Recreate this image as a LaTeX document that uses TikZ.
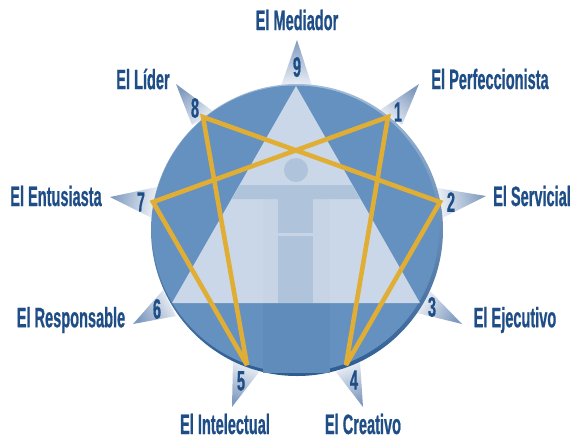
\documentclass[tikz,border=0pt]{standalone}
\usepackage{fontspec}
\newfontfamily\labelfont[FakeStretch=0.52,FakeBold=0.6]{Liberation Sans Bold}
\definecolor{inkblue}{HTML}{1F4E86}
\definecolor{discblue}{HTML}{6491BF}
\definecolor{lowblue}{HTML}{5F8CBB}
\definecolor{rimlight}{HTML}{A3BDD9}
\definecolor{rimdark}{HTML}{2D5C92}
\definecolor{paleblue}{HTML}{CAD7E8}
\definecolor{midpale}{HTML}{C6D4E6}
\definecolor{figblue}{HTML}{AFC3DB}
\definecolor{tipblue}{HTML}{7F9ABF}
\definecolor{basepale}{HTML}{EDF1F7}
\definecolor{linegold}{HTML}{E0AE35}
\pgfdeclareradialshading{rimshade}{\pgfpoint{0bp}{0bp}}{
  color(0bp)=(discblue); color(45bp)=(discblue); color(50bp)=(discblue!60!rimlight)}
\begin{document}
\begin{tikzpicture}[
    x=1pt, y=-1pt,
    namelabel/.style={text=inkblue, font=\labelfont\fontsize{28}{28}\selectfont, inner sep=0pt},
    digitlabel/.style={text=inkblue, font=\labelfont\fontsize{28}{28}\selectfont, inner sep=0pt},
    spike/.style={top color=tipblue, bottom color=basepale},
    goldline/.style={draw=linegold, line width=4.6pt, line join=miter, miter limit=3},
]
\useasboundingbox (0,0) rectangle (571,440);
% spikes
\shade[spike, shading angle=0]    (297,40)  -- (312,86)  -- (281,86)  -- cycle;
\shade[spike, shading angle=-40]  (419,84)  -- (402,125) -- (380,110) -- cycle;
\shade[spike, shading angle=-80]  (486,196) -- (442,218) -- (437,188) -- cycle;
\shade[spike, shading angle=-120] (462,324) -- (417,313) -- (430,291) -- cycle;
\shade[spike, shading angle=-160] (363,407) -- (336,372) -- (360,361) -- cycle;
\shade[spike, shading angle=-200] (232,407) -- (233,361) -- (259,372) -- cycle;
\shade[spike, shading angle=-240] (133,324) -- (163,290) -- (176,316) -- cycle;
\shade[spike, shading angle=80]   (110,197) -- (157,187) -- (152,218) -- cycle;
\shade[spike, shading angle=40]   (176,84)  -- (214,112) -- (192,125) -- cycle;
% disc
\shade[top color=rimlight, bottom color=rimdark] (297,230) circle (146);
\shade[shading=rimshade] (295.5,229) circle (143.5);
% lower band and triangle
\fill[lowblue] (263,303) rectangle (330,373);
\fill[paleblue] (296,86) -- (420,303) -- (172,303) -- cycle;
\fill[midpale] (263,199) rectangle (330,303);
% figure
\fill[figblue] (296,170) circle (12);
\fill[figblue] (240,185) -- (352,185) -- (360,199) -- (232,199) -- cycle;
\fill[figblue] (278,199) rectangle (313,233);
\fill[figblue] (278,236) rectangle (313,303);
% points of the figure
\coordinate (one)   at (388,117);
\coordinate (two)   at (440,202);
\coordinate (four)  at (346,365);
\coordinate (five)  at (247,365);
\coordinate (seven) at (153,202);
\coordinate (eight) at (203,117);
\draw[goldline] (one) -- (four) -- (two) -- (eight) -- (five) -- (seven) -- cycle;
% digits
\node[digitlabel] (nine)      at (297,67)  {9};
\node[digitlabel] (oned)      at (398,112) {1};
\node[digitlabel] (twod)      at (451,202) {2};
\node[digitlabel] (threed)    at (432,307) {3};
\node[digitlabel] (fourd)     at (354,380) {4};
\node[digitlabel] (fived)     at (241,381) {5};
\node[digitlabel] (sixd)      at (157,309) {6};
\node[digitlabel] (sevend)    at (141,202) {7};
\node[digitlabel] (eightd)    at (195,108) {8};
% names
\node[namelabel] (mediador)   at (297,20)  {El Mediador};
\node[namelabel] (lider)      at (143,79)  {El Líder};
\node[namelabel] (perfecto)   at (490,79)  {El Perfeccionista};
\node[namelabel] (entusiasta) at (56,196)  {El Entusiasta};
\node[namelabel] (servicial)  at (532,196) {El Servicial};
\node[namelabel] (responsable) at (71,320) {El Responsable};
\node[namelabel] (ejecutivo)  at (515,320) {El Ejecutivo};
\node[namelabel] (intelectual) at (225,424) {El Intelectual};
\node[namelabel] (creativo)   at (363,424) {El Creativo};
\end{tikzpicture}
\end{document}
